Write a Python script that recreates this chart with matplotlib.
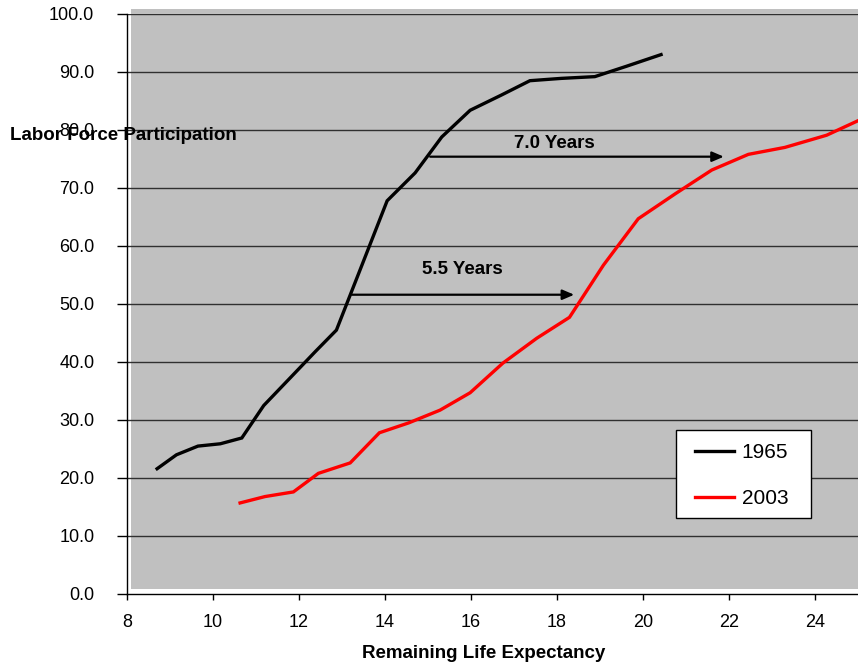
import matplotlib
matplotlib.use("Agg")
import matplotlib.pyplot as plt
from matplotlib.patches import Rectangle

plt.rcParams['font.family'] = ['Liberation Sans', 'DejaVu Sans']

# Remaining life expectancy (x) vs labor force participation (y)
x_1965 = [8.70, 9.15, 9.65, 10.17, 10.67, 11.18, 11.80, 12.38, 12.87, 13.40,
          14.05, 14.70, 15.32, 15.98, 16.70, 17.37, 18.10, 18.88, 19.62, 20.42]
y_1965 = [21.6, 24.0, 25.5, 25.9, 26.9, 32.5, 37.3, 41.8, 45.5, 55.5,
          67.8, 72.6, 78.8, 83.4, 86.0, 88.5, 88.9, 89.2, 91.0, 93.0]

x_2003 = [10.63, 11.21, 11.87, 12.45, 13.19, 13.87, 14.55, 15.28, 15.98, 16.74,
          17.53, 18.29, 19.08, 19.89, 20.75, 21.60, 22.45, 23.30, 24.27, 25.0]
y_2003 = [15.7, 16.8, 17.6, 20.8, 22.6, 27.8, 29.5, 31.7, 34.7, 39.8,
          44.1, 47.7, 56.7, 64.7, 69.0, 73.1, 75.8, 77.0, 79.1, 81.6]

# gap annotations: (start x, end x, y, label, label x, label y)
gaps = [
    (15.05, 21.88, 75.4, '7.0 Years', 17.93, 77.6),
    (13.23, 18.40, 51.6, '5.5 Years', 15.81, 55.9),
]

x_ticks = [8, 10, 12, 14, 16, 18, 20, 22, 24]
y_ticks = [0, 10, 20, 30, 40, 50, 60, 70, 80, 90, 100]

fig = plt.figure(figsize=(8.58, 6.68), dpi=100)
ax = fig.add_axes([127 / 858, 74 / 668, 731 / 858, 580 / 668])

# grey plot area, slightly offset like the original
ax.add_patch(Rectangle((0.0055, 0.0086), 1.0, 1.0, transform=ax.transAxes,
                       facecolor='#C0C0C0', edgecolor='none', clip_on=False, zorder=0))

for yv in y_ticks[1:]:
    ax.axhline(yv, color='#303030', lw=1.0, zorder=1)

ax.plot(x_1965, y_1965, color='black', lw=2.4, label='1965', zorder=3, solid_joinstyle='miter')
ax.plot(x_2003, y_2003, color='#FF0000', lw=2.4, label='2003', zorder=3, solid_joinstyle='miter')

for x0, x1, yv, txt, tx, ty in gaps:
    ax.annotate('', xy=(x1, yv), xytext=(x0, yv),
                arrowprops=dict(arrowstyle='-|>,head_length=0.7,head_width=0.3',
                                color='black', lw=1.6, shrinkA=0, shrinkB=0), zorder=4)
    ax.text(tx, ty, txt, ha='center', va='center', fontsize=13.5, fontweight='bold', zorder=4)

ax.set_xlim(8, 25)
ax.set_ylim(0, 100)
ax.set_xticks(x_ticks)
ax.set_yticks(y_ticks)
ax.set_yticklabels([f'{v:.1f}' for v in y_ticks])
ax.set_facecolor('white')

for side in ['top', 'right']:
    ax.spines[side].set_visible(False)
for side in ['left', 'bottom']:
    ax.spines[side].set_linewidth(1.0)
    ax.spines[side].set_zorder(5)

ax.tick_params(axis='y', direction='out', length=7, width=1, pad=16.5, labelsize=13)
ax.tick_params(axis='x', direction='out', length=4.5, width=1, pad=10, labelsize=13)

# legend: own white box, frameless legend inside
ax.add_patch(Rectangle((0.751, 0.131), 0.1847, 0.1517, transform=ax.transAxes,
                       facecolor='white', edgecolor='black', lw=1.0, zorder=6))
leg = ax.legend(loc='center', bbox_to_anchor=(0.8406, 0.2043), fontsize=15,
                frameon=False, handlelength=1.9, handletextpad=0.35,
                labelspacing=1.29, borderpad=0)
leg.set_zorder(7)

fig.text(10 / 858, (668 - 136) / 668, 'Labor Force Participation', ha='left', va='center',
         fontsize=13.5, fontweight='bold')
fig.text(484 / 858, 14 / 668, 'Remaining Life Expectancy', ha='center', va='center',
         fontsize=13.5, fontweight='bold')

fig.savefig('out.png', dpi=100)
